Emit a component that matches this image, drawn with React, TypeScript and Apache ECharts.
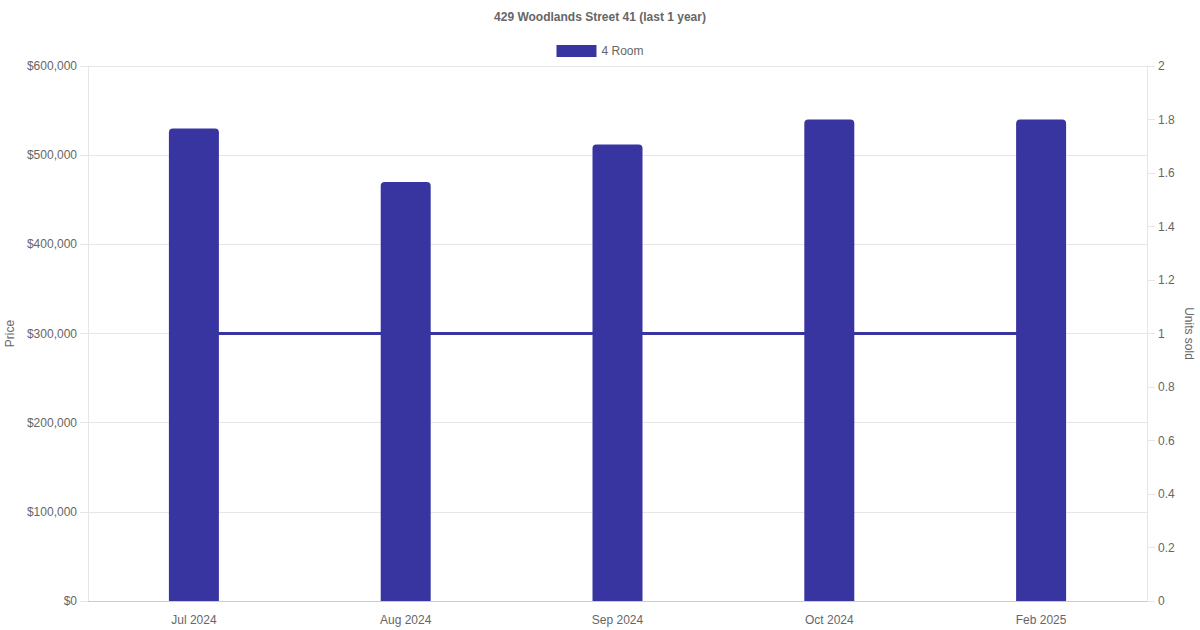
import React, { useEffect, useRef } from "react";
import * as echarts from "echarts";

const categories = ["Jul 2024", "Aug 2024", "Sep 2024", "Oct 2024", "Feb 2025"];
const priceValues = [530000, 470000, 512000, 540000, 540000];
const unitsSold = [1, 1, 1, 1, 1];
const titleText = "429 Woodlands Street 41 (last 1 year)";
const barSeriesName = "4 Room";
const lineSeriesName = "Units sold";

const FONT = "'Liberation Sans', Arial, sans-serif";
const COLOR = "#3935a0";

export default function App() {
  const ref = useRef<HTMLDivElement>(null);
  useEffect(() => {
    if (!ref.current) return;
    const chart = echarts.init(ref.current, null, { renderer: "svg" });
    chart.setOption({
      animation: false,
      textStyle: { fontFamily: FONT },
      title: {
        text: titleText,
        left: "center",
        top: 6,
        textStyle: { fontSize: 12, fontWeight: "bold", color: "#666", fontFamily: FONT },
      },
      legend: {
        data: [barSeriesName],
        top: 40,
        left: "center",
        itemWidth: 40,
        itemHeight: 12,
        itemGap: 10,
        icon: "rect",
        textStyle: { fontSize: 12, color: "#666", fontFamily: FONT },
      },
      grid: { left: 88, right: 53, top: 66, bottom: 29, containLabel: false, outerBoundsMode: "none" },
      xAxis: {
        type: "category",
        data: categories,
        axisLine: { show: true, lineStyle: { color: "#cccccc" } },
        axisTick: { show: false },
        axisLabel: { color: "#666", fontSize: 12, margin: 13, fontFamily: FONT },
        splitLine: { show: false },
      },
      yAxis: [
        {
          type: "value",
          min: 0,
          max: 600000,
          interval: 100000,
          name: "Price",
          nameLocation: "middle",
          nameGap: 72,
          nameTextStyle: { color: "#666", fontSize: 12, fontFamily: FONT },
          axisLine: { show: true, lineStyle: { color: "#e6e6e6" } },
          axisTick: { show: true, length: 8, lineStyle: { color: "#e6e6e6" } },
          axisLabel: {
            color: "#666",
            fontSize: 12,
            margin: 11,
            fontFamily: FONT,
            formatter: (v: number) => "$" + v.toLocaleString("en-US"),
          },
          splitLine: { show: true, lineStyle: { color: "#e6e6e6" } },
        },
        {
          type: "value",
          min: 0,
          max: 2,
          interval: 0.2,
          position: "right",
          name: "Units sold",
          nameLocation: "middle",
          nameRotate: -90,
          nameGap: 36,
          nameMoveOverlap: false,
          nameTextStyle: { color: "#666", fontSize: 12, fontFamily: FONT },
          axisLine: { show: true, lineStyle: { color: "#e6e6e6" } },
          axisTick: { show: true, length: 8, lineStyle: { color: "#e6e6e6" } },
          axisLabel: {
            color: "#666",
            fontSize: 12,
            margin: 11,
            fontFamily: FONT,
            formatter: (v: number) => String(Math.round(v * 10) / 10),
          },
          splitLine: { show: false },
        },
      ],
      series: [
        {
          name: lineSeriesName,
          type: "line",
          yAxisIndex: 1,
          data: unitsSold,
          symbol: "none",
          z: 1,
          lineStyle: { color: COLOR, width: 3 },
          itemStyle: { color: COLOR },
        },
        {
          name: barSeriesName,
          type: "bar",
          yAxisIndex: 0,
          data: priceValues,
          barWidth: 50,
          z: 3,
          itemStyle: { color: COLOR, borderRadius: [4, 4, 0, 0] },
        },
      ],
    });
    return () => chart.dispose();
  }, []);
  return <div ref={ref} style={{ width: 1200, height: 630, position: "absolute", left: 0, top: 0 }} />;
}
